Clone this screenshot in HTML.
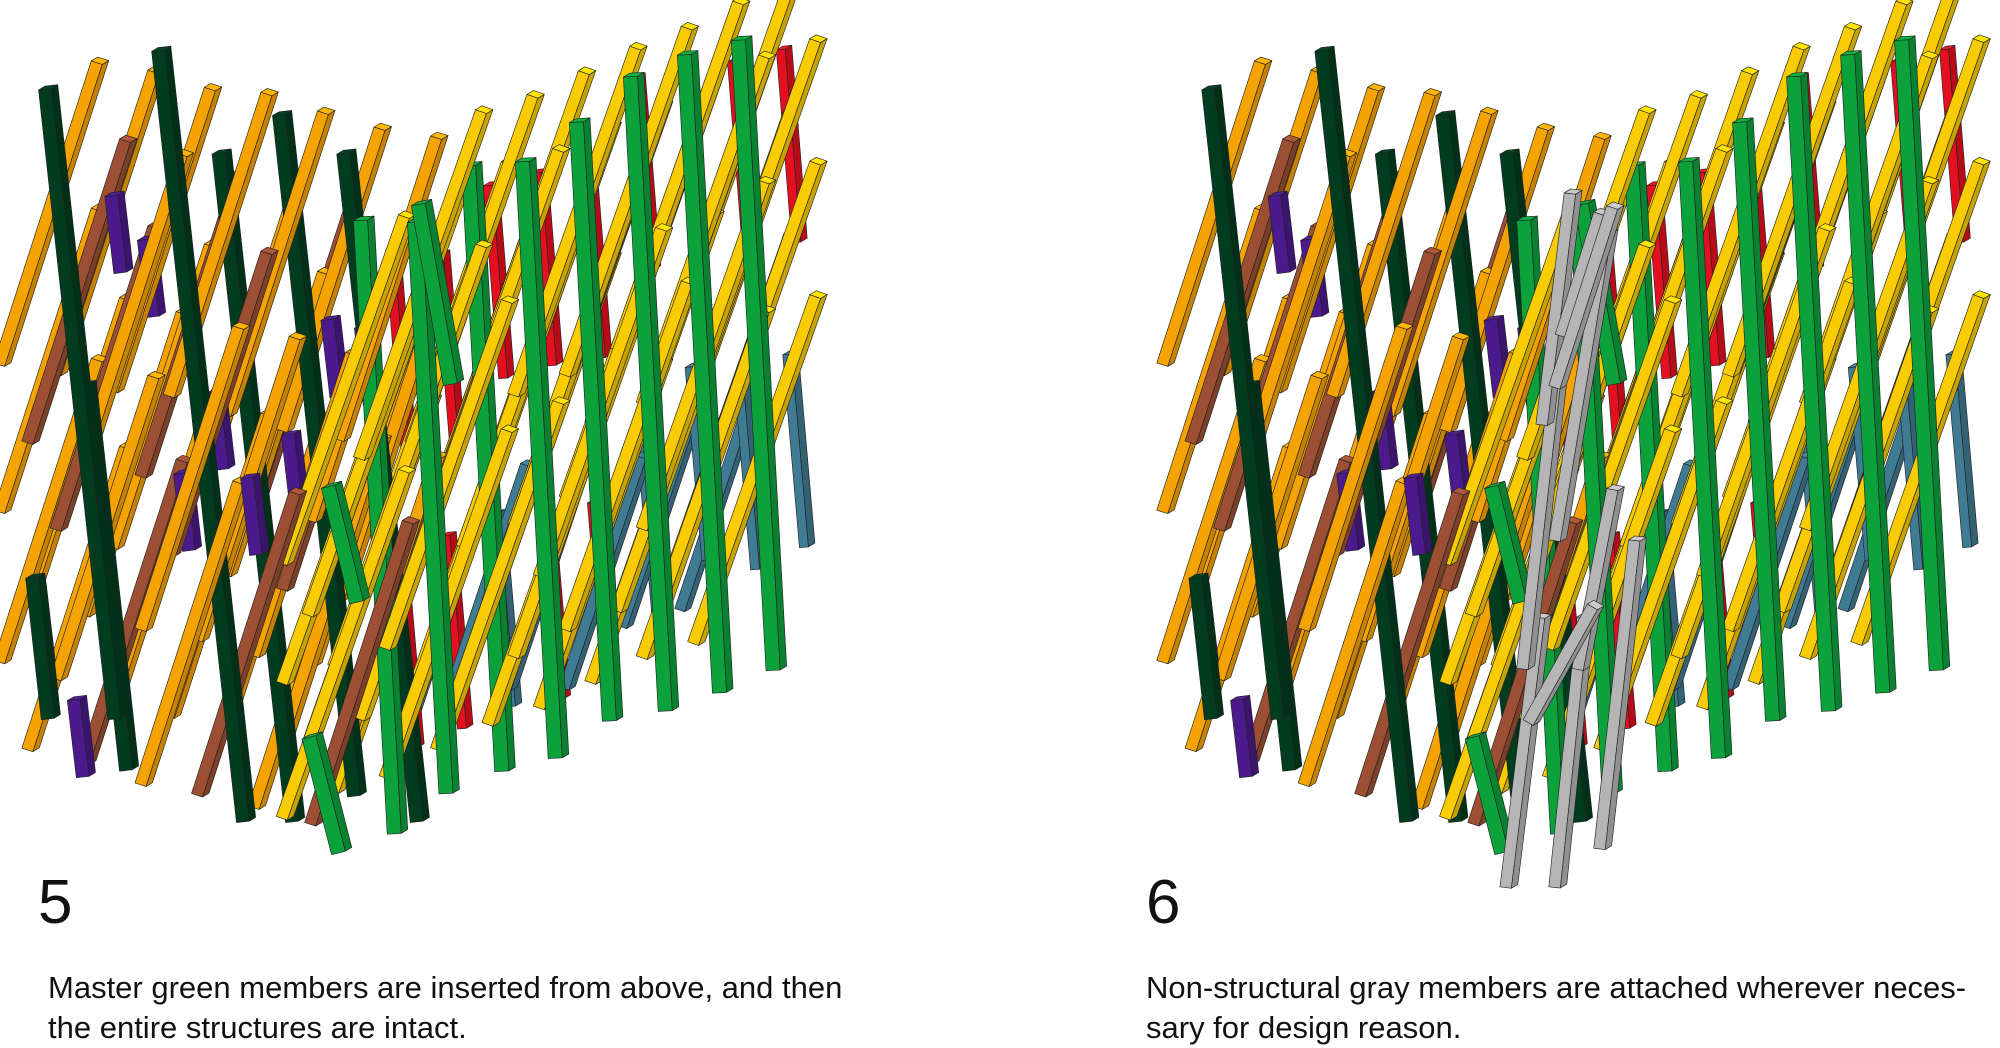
<!DOCTYPE html>
<html><head><meta charset="utf-8">
<style>
html,body{margin:0;padding:0;background:#fff;width:2000px;height:1045px;overflow:hidden}
.t{position:absolute;font-family:"Liberation Sans",sans-serif;color:#111}
.num{font-size:62px;line-height:62px}
.cap{font-size:31px;line-height:40px}
svg{position:absolute;left:0;top:0}
</style></head><body>
<svg id="s" width="2000" height="1045" viewBox="0 0 2000 1045"><g id="g" transform="scale(1.2853)"></g></svg>
<div class="t num" style="left:38px;top:872px">5</div>
<div class="t cap" style="left:48px;top:968px">Master green members are inserted from above, and then<br>the entire structures are intact.</div>
<div class="t num" style="left:1146px;top:872px">6</div>
<div class="t cap" style="left:1146px;top:968px">Non-structural gray members are attached wherever neces-<br>sary for design reason.</div>
<script>
var g=document.getElementById('g'),NS='http://www.w3.org/2000/svg';
var seed=7;function r(){seed=(seed*16807)%2147483647;return seed/2147483647;}
function sh(c,f){var n=parseInt(c.slice(1),16),R=(n>>16)&255,G=(n>>8)&255,B=n&255;return 'rgb('+Math.min(255,R*f|0)+','+Math.min(255,G*f|0)+','+Math.min(255,B*f|0)+')';}
function poly(pts,f){var p=document.createElementNS(NS,'polygon');p.setAttribute('points',pts.map(function(a){return a[0].toFixed(1)+','+a[1].toFixed(1)}).join(' '));p.setAttribute('fill',f);p.setAttribute('stroke','#222');p.setAttribute('stroke-width','0.5');p.setAttribute('stroke-linejoin','round');g.appendChild(p);}
function stick(x1,y1,x2,y2,c,w){
if(y2>y1){var t=x1;x1=x2;x2=t;t=y1;y1=y2;y2=t;}
var dx=x2-x1,dy=y2-y1,L=Math.hypot(dx,dy),nx=-dy/L*w,ny=dx/L*w;
if(nx<0){nx=-nx;ny=-ny;}
var mx=5,my=-3;
var a=[x1,y1],b=[x2,y2],an=[x1+nx,y1+ny],bn=[x2+nx,y2+ny];
poly([a,b,bn,an],c);
poly([an,bn,[bn[0]+mx,bn[1]+my],[an[0]+mx,an[1]+my]],sh(c,0.8));
poly([b,bn,[bn[0]+mx,bn[1]+my],[b[0]+mx,b[1]+my]],sh(c,1.12));}
var Y='#f8cc00',O='#f5a300',GR='#0ba23c',DG='#003d1e',PU='#4b1a8c',BR='#9c4f33',RD='#e5101f',BL='#3f7b92',GY='#b5b5b5';
function yb(x){return 680-(x-215)*0.43;}
function yt(x){return Math.max(0,150-(x-300)*0.58);}
function panel(ox,gray){seed=11;var list=[];
function add(l,x1,y1,x2,y2,c,w){list.push([l+r()*0.6,x1,y1,x2,y2,c,w]);}
var i=0;
for(var x0=-5;x0<=265;x0+=22){i++;
 for(var k=0;k<6;k++){var by=575+x0*0.25-k*120-(i%2)*60+r()*10;
  var ty=by-235;if(ty<35+(x0*0.15)||by>650)continue;
  add(1,x0,by,x0+76,ty,(i+k)%4==0?BR:O,9);}}
[[20,450,560],[30,70,560],[118,40,640],[165,120,640],[212,90,620],[262,120,640],[60,300,600]].forEach(function(d){
 add(1.3,d[0],d[1],d[0]+(d[2]-d[1])*0.11,d[2],DG,10);});
for(var k=0;k<10;k++){var x=18+k*28+r()*10,y=70+r()*480;add(1.2,x,y,x+7,y+60,PU,10);}
for(var x=300;x<=610;x+=38){var t=yt(x)+20+r()*60;add(0.2,x,t,x+12,t+150,RD,7);
 var t2=t+200+r()*80;if(t2+150<yb(x))add(0.2,x+5,t2,x+18,t2+150,r()<.5?RD:BL,7);}
for(var x=300;x<=560;x+=45){var b=yb(x)-40-r()*60;add(0.3,x,b,x+60,b-180,BL,8);}
i=0;
for(var x0=215;x0<=545;x0+=20){i++;
 for(var k=0;k<6;k++){var by=yb(x0)-k*100-(i%2)*50+r()*8;
  var ty=by-270;if(by>yb(x0)+2)continue;if(ty<yt(x0+95)-25)continue;
  add(1,x0,by,x0+95,ty,Y,9);}}
for(var x=275;x<=600;x+=42){var t=yt(x)+5+r()*30,b=yb(x)-5-r()*20;
 add(1.4,x,t,x+(b-t)*0.055,b,GR,11);}
[[235,575,258,665],[250,380,272,470],[320,160,345,300]].forEach(function(d){add(1.5,d[0],d[1],d[2],d[3],GR,11);});
if(gray){
 [[262,690,288,480],[275,520,300,300],[290,330,312,150],[305,260,335,165],[300,420,340,180],[300,690,322,480],[318,520,345,380],[335,660,362,420],[280,560,330,470],[300,300,345,160]].forEach(function(d){list.push([3,d[0],d[1],d[2],d[3],GY,9]);});}
list.sort(function(a,b){return a[0]-b[0];});
list.forEach(function(s){stick(s[1]+ox,s[2],s[3]+ox,s[4],s[5],s[6]);});}
panel(0,false);panel(905,true);
</script>
</body></html>
